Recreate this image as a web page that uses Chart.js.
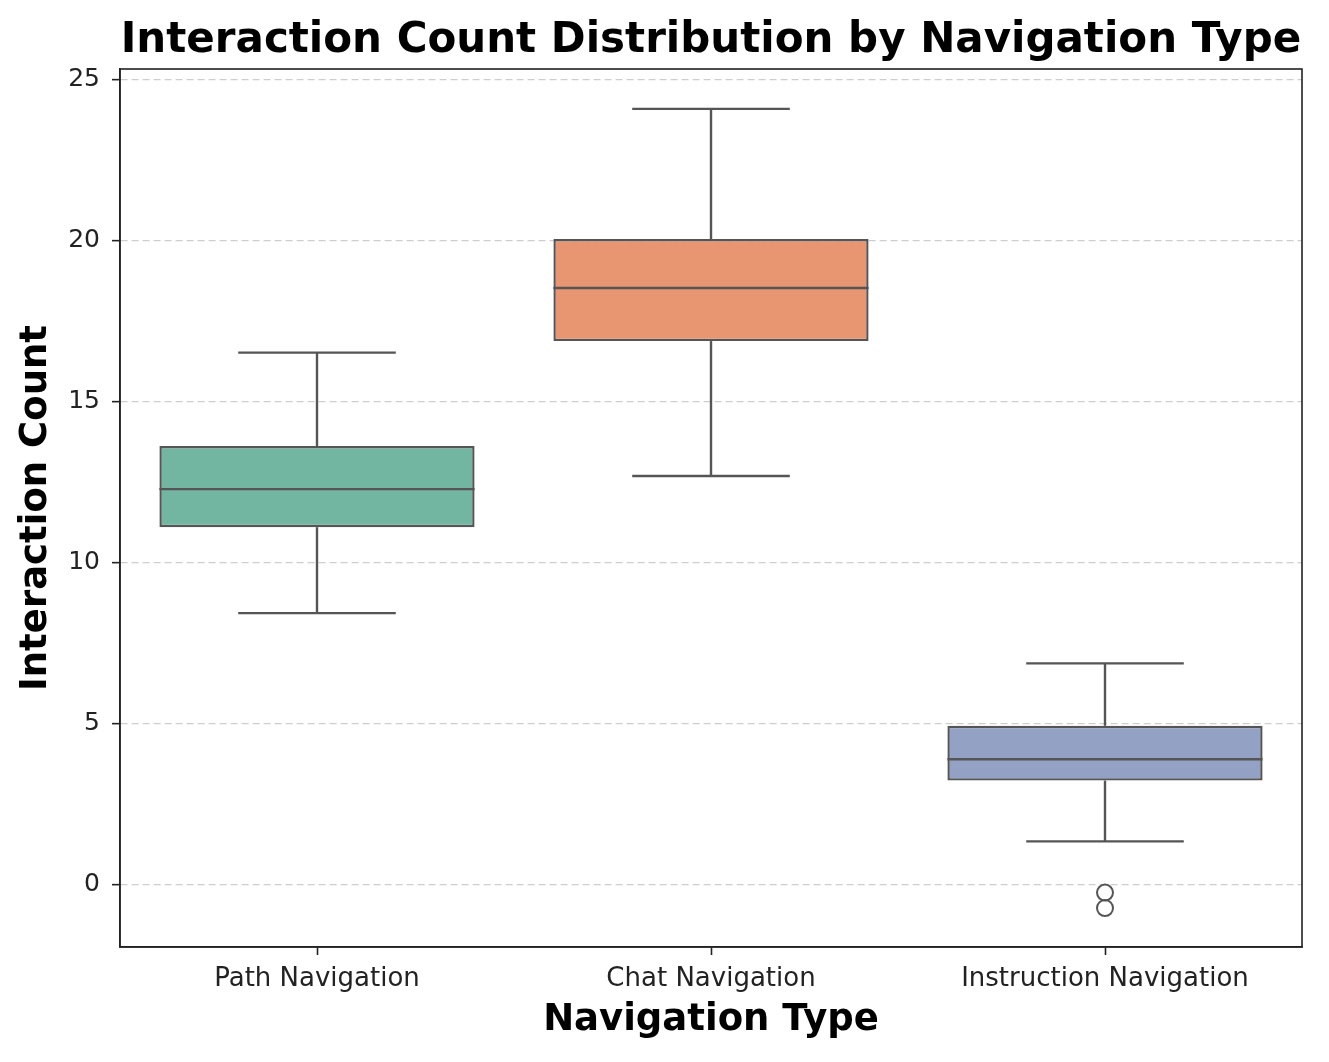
<!DOCTYPE html>
<html>
<head>
<meta charset="utf-8">
<script src="https://cdn.jsdelivr.net/npm/chart.js@4.4.1/dist/chart.umd.min.js"></script>
<style>
    html, body { margin: 0; padding: 0; background: #fff; }
</style>
</head>
<body>
<canvas id="boxChart" width="1329" height="1062"></canvas>
<script>
// Box plot values
const categories = ["Path Navigation", "Chat Navigation", "Instruction Navigation"];
const whiskerLow = [8.44, 12.70, 1.35];
const q1Values = [11.11, 16.89, 3.24];
const medianValues = [12.29, 18.54, 3.90];
const q3Values = [13.63, 20.06, 4.94];
const whiskerHigh = [16.53, 24.10, 6.88];
const outlierCategory = ["Instruction Navigation", "Instruction Navigation"];
const outlierValues = [-0.24, -0.72];
const yTicks = [0, 5, 10, 15, 20, 25];
const boxColors = ["#72b6a1", "#e89672", "#93a1c5"];

const LINE_COLOR = "#555555";
const AXIS_COLOR = "#222222";

Chart.defaults.font.family = "'DejaVu Sans', sans-serif";

// whiskers, caps, medians and the plot frame
const boxParts = {
    id: "boxParts",
    afterDatasetsDraw(chart) {
        const { ctx, chartArea, scales: { x, y } } = chart;
        const step = x.getPixelForValue(1) - x.getPixelForValue(0);
        const boxHalf = step * 0.4;
        const capHalf = step * 0.2;

        const seg = (x1, y1, x2, y2) => {
            ctx.beginPath();
            ctx.moveTo(x1, y1);
            ctx.lineTo(x2, y2);
            ctx.stroke();
        };

        ctx.save();
        ctx.strokeStyle = LINE_COLOR;
        ctx.lineWidth = 2.4;
        ctx.lineCap = "butt";
        categories.forEach((cat, i) => {
            const cx = x.getPixelForValue(i);
            const yLo = y.getPixelForValue(whiskerLow[i]);
            const yHi = y.getPixelForValue(whiskerHigh[i]);
            seg(cx, y.getPixelForValue(q3Values[i]), cx, yHi);
            seg(cx, y.getPixelForValue(q1Values[i]), cx, yLo);
            seg(cx - capHalf, yHi, cx + capHalf, yHi);
            seg(cx - capHalf, yLo, cx + capHalf, yLo);
            const ym = y.getPixelForValue(medianValues[i]);
            seg(cx - boxHalf, ym, cx + boxHalf, ym);
        });

        ctx.strokeStyle = AXIS_COLOR;
        ctx.lineWidth = 1.6;
        ctx.strokeRect(chartArea.left, chartArea.top, chartArea.width, chartArea.height);
        ctx.restore();
    }
};

const ctx = document.getElementById("boxChart").getContext("2d");

new Chart(ctx, {
    type: "bar",
    data: {
        labels: categories,
        datasets: [
            {
                label: "IQR",
                data: categories.map((c, i) => [q1Values[i], q3Values[i]]),
                backgroundColor: boxColors,
                borderColor: LINE_COLOR,
                borderWidth: 2.4,
                borderSkipped: false,
                barPercentage: 0.8,
                categoryPercentage: 1.0
            },
            {
                type: "scatter",
                label: "Outliers",
                data: outlierValues.map((v, i) => ({ x: outlierCategory[i], y: v })),
                pointRadius: 8,
                pointBorderWidth: 2,
                pointBorderColor: LINE_COLOR,
                pointBackgroundColor: "rgba(255,255,255,0)"
            }
        ]
    },
    options: {
        responsive: false,
        animation: false,
        devicePixelRatio: 1,
        layout: { padding: { left: 0, right: 27, top: 0, bottom: 0 } },
        plugins: {
            legend: { display: false },
            tooltip: { enabled: false },
            title: {
                display: true,
                fullSize: false,
                text: "Interaction Count Distribution by Navigation Type",
                color: "#000",
                font: { size: 42, weight: "bold" },
                padding: { top: 16, bottom: 2.6 }
            }
        },
        scales: {
            x: {
                type: "category",
                offset: true,
                grid: {
                    offset: false,
                    drawOnChartArea: false,
                    drawTicks: true,
                    tickLength: 8,
                    tickColor: AXIS_COLOR,
                    tickWidth: 1.6
                },
                border: { display: true, color: AXIS_COLOR, width: 1.6 },
                ticks: { color: "#222", font: { size: 26 }, padding: 9 },
                title: {
                    display: true,
                    text: "Navigation Type",
                    color: "#000",
                    font: { size: 37, weight: "bold" },
                    padding: { top: 4, bottom: 19.8 }
                },
                afterFit(scale) { scale.height = 115; }
            },
            y: {
                min: -1.93,
                max: 25.34,
                afterBuildTicks(scale) {
                    scale.ticks = yTicks.map(v => ({ value: v }));
                },
                grid: {
                    color: "rgba(190,190,190,0.75)",
                    lineWidth: 1.3,
                    tickLength: 8,
                    tickColor: AXIS_COLOR,
                    tickWidth: 1.6,
                    tickBorderDash: []
                },
                border: { display: true, color: AXIS_COLOR, width: 1.6, dash: [7, 4] },
                ticks: { color: "#222", font: { size: 25 }, padding: 12 },
                title: {
                    display: true,
                    text: "Interaction Count",
                    color: "#000",
                    font: { size: 37, weight: "bold" },
                    padding: { top: 14, bottom: 0 }
                },
                afterFit(scale) { scale.width = 120; }
            }
        }
    },
    plugins: [boxParts]
});
</script>
</body>
</html>
